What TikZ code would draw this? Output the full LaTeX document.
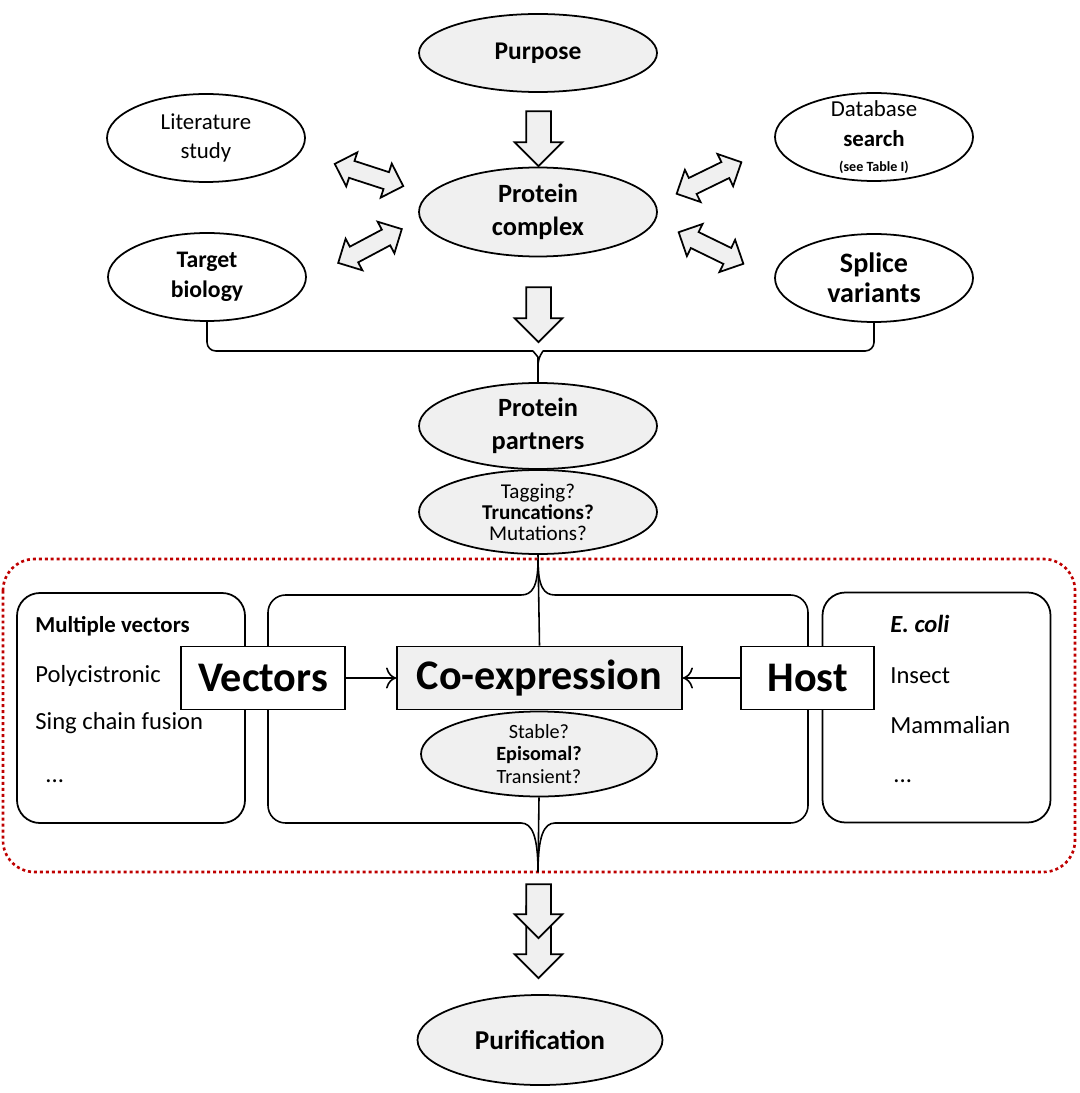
\documentclass[tikz,border=0pt]{standalone}
\usepackage{fontspec}
\setmainfont{Carlito}
\usetikzlibrary{shapes.geometric, shapes.arrows, arrows.meta}

\begin{document}
\begin{tikzpicture}[x=0.2mm, y=-0.2mm]
  \tikzstyle{bubble} = [ellipse, draw, fill = white, line width = 1pt, inner sep = -8pt, align = center, minimum width = 39.6mm, minimum height = 17.6mm]
  \tikzstyle{g_bubble} = [bubble, fill = gray!12, minimum width = 47.6mm, minimum height = 17.2mm]
  \tikzstyle{block} = [rectangle, draw, fill = white, line width = 1pt, minimum height = 12.6mm, font = \fontsize{24}{28}\selectfont\bfseries]
  \tikzstyle{list_block} = [rectangle, rounded corners = 13pt, draw, fill = white, line width = 1pt, minimum width = 45.6mm, minimum height = 46mm]
  \tikzstyle{item_text} = [anchor = base west, inner sep = 0pt, font = \fontsize{14}{16}\selectfont]
  \tikzstyle{fat_arrow} = [single arrow, draw, fill = gray!12, line width = 1pt, rotate = -90, inner xsep = 0pt, inner ysep = 2.3mm, single arrow head extend = 2.3mm, minimum height = 11mm]
  \tikzstyle{swap_arrow} = [double arrow, draw, fill = gray!12, line width = 1pt, inner xsep = 0pt, inner ysep = 1.6mm, double arrow head extend = 1.8mm, minimum height = 14.4mm]
  \tikzstyle{wire} = [line width = 0.9pt]
  \tikzstyle{arrow} = [-{To[scale = 1.6]}, line width = 0.9pt]

  \useasboundingbox (0,0) rectangle (1079,1093);

  % dotted frame round the expression part
  \draw[red!75!black, line width = 1.5pt, dash pattern = on 1.7pt off 1.7pt, rounded corners = 18pt] (3,559) rectangle (1075,872);

  \node [g_bubble, minimum height = 15.6mm, font = \fontsize{14.5}{17}\selectfont\bfseries] at (538,53) (purpose) {Purpose};
  \node [bubble, font = \fontsize{13}{17}\selectfont] at (206,138) (literature) {Literature\\study};
  \node [bubble, font = \fontsize{13.5}{17}\selectfont\bfseries] at (207,277) (target) {Target\\biology};
  \node [g_bubble, minimum height = 17.8mm, font = \fontsize{15}{19}\selectfont\bfseries] at (538,212) (complex) {Protein\\complex};
  \node [bubble, font = \fontsize{13}{17}\selectfont] at (874,137) (database) {Database\\\textbf{search}\\[-3pt]{\fontsize{8}{9}\selectfont\bfseries (see Table I)}};
  \node [bubble, font = \fontsize{16}{17}\selectfont\bfseries] at (874,278) (splice) {Splice\\variants};

  \node [fat_arrow] at (538.5,132.5) (arrow_top) {};
  \node [fat_arrow] at (538.5,308.5) (arrow_mid) {};

  \node [swap_arrow, rotate = -18] at (369,175) (swap_lit) {};
  \node [swap_arrow, rotate = 28] at (370,246) (swap_target) {};
  \node [swap_arrow, rotate = 26] at (709,178) (swap_db) {};
  \node [swap_arrow, rotate = -26] at (711,248) (swap_splice) {};

  \node [g_bubble, font = \fontsize{15}{19}\selectfont\bfseries] at (538,426) (partners) {Protein\\partners};
  \node [g_bubble, minimum height = 16.8mm, font = \fontsize{12}{12}\selectfont] at (538,512) (tagging) {Tagging?\\\textbf{Truncations?}\\Mutations?};

  \draw[wire, rounded corners = 5pt] (target.south) |- (524,351) .. controls (533,351) and (538,357) .. (538,366) -- (partners.north);
  \draw[wire, rounded corners = 5pt] (splice.south) |- (552,351) .. controls (543,351) and (538,357) .. (538,366);

  \coordinate (top_tip) at (538,560);
  \coordinate (bottom_tip) at (538,872);
  \draw[wire, rounded corners = 10pt] (521,595) -- (268,595) -- (268,823) -- (521,823);
  \draw[wire, rounded corners = 10pt] (555,595) -- (808,595) -- (808,823) -- (555,823);
  \draw[wire] (521,595) .. controls (532,595) and (538,587) .. (top_tip) .. controls (538,587) and (544,595) .. (555,595);
  \draw[wire] (521,823) .. controls (532,823) and (538,836) .. (bottom_tip) .. controls (538,836) and (544,823) .. (555,823);

  \node [list_block] at (131,708) (vec_list) {};
  \node [item_text, font = \fontsize{13}{16}\selectfont\bfseries] at (35,632) (multi) {Multiple vectors};
  \node [item_text] at (35,682) (poly) {Polycistronic};
  \node [item_text] at (35,729) (fusion) {Sing chain fusion};
  \node [item_text] at (45,782) (vec_more) {...};

  \node [list_block] at (936.5,707.5) (host_list) {};
  \node [item_text] at (890,632) (ecoli) {\textbf{\textit{E. coli}}};
  \node [item_text] at (890,683) (insect) {Insect};
  \node [item_text] at (890,733) (mammal) {Mammalian};
  \node [item_text] at (893,782) (host_more) {...};

  \node [block, minimum width = 32.8mm] at (263,678) (vectors) {Vectors};
  \node [block, fill = gray!12, minimum width = 57mm] at (539.5,678) (coexp) {Co-expression};
  \node [block, minimum width = 26.6mm] at (807.5,678) (host) {Host};
  \node [g_bubble, minimum width = 47.2mm, minimum height = 17mm, font = \fontsize{11.5}{12.8}\selectfont] at (539,754) (stable) {Stable?\\\textbf{Episomal?}\\Transient?};

  \draw[wire] (tagging.south) -- (coexp.north);
  \draw[wire] (stable.south) -- (bottom_tip);
  \draw[arrow] (vectors.east) -- (coexp.west);
  \draw[arrow] (host.west) -- (coexp.east);

  \node [fat_arrow, minimum height = 14.4mm] at (538.5,936) (arrow_low) {};
  \node [fat_arrow, minimum height = 10.8mm] at (538.5,905) (arrow_out) {};

  \node [g_bubble, minimum width = 49mm, minimum height = 18mm, font = \fontsize{15.5}{18}\selectfont\bfseries] at (540,1040) (purification) {Purification};
\end{tikzpicture}
\end{document}
